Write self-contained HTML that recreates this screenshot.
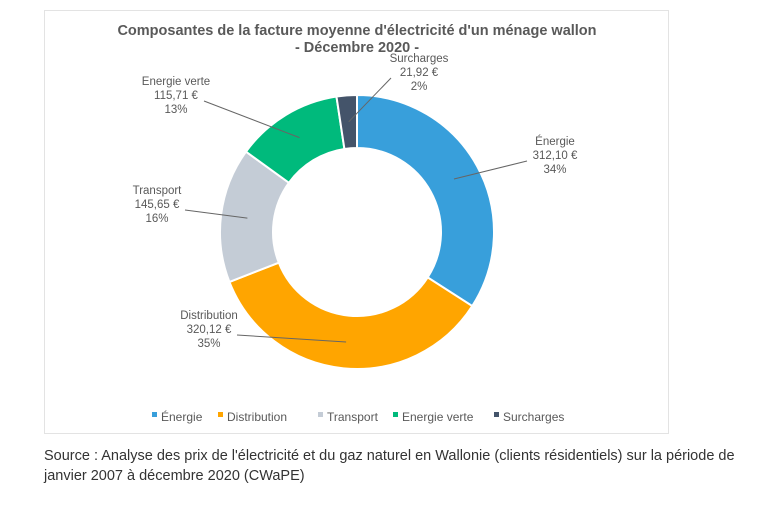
<!DOCTYPE html>
<html><head><meta charset="utf-8">
<style>
body{margin:0;background:#fff;width:762px;height:505px;overflow:hidden;font-family:"Liberation Sans",sans-serif;}
#frame{position:absolute;left:44px;top:10px;width:625px;height:424px;border:1px solid #e3e3e3;box-sizing:border-box;}
#src{position:absolute;left:44px;top:446px;font-size:14.5px;color:#333;line-height:20px;width:710px;}
svg text{font-family:"Liberation Sans",sans-serif;fill:#595959;}
</style></head><body>
<div id="frame"></div>
<svg id="chart" width="762" height="440" style="position:absolute;left:0;top:0">
<text x="357" y="35" text-anchor="middle" font-size="14.5" font-weight="bold">Composantes de la facture moyenne d'électricité d'un ménage wallon</text>
<text x="357" y="52" text-anchor="middle" font-size="14.5" font-weight="bold">- Décembre 2020 -</text>
<g id="slices"></g><g id="labels"></g><g id="legend"></g>
</svg>
<div id="src">Source : Analyse des prix de l'électricité et du gaz naturel en Wallonie (clients résidentiels) sur la période de janvier 2007 à décembre 2020 (CWaPE)</div>
<script>
const categories=["Énergie","Distribution","Transport","Energie verte","Surcharges"];
const values=[312.10,320.12,145.65,115.71,21.92];
const valueLabels=["312,10 €","320,12 €","145,65 €","115,71 €","21,92 €"];
const pctLabels=["34%","35%","16%","13%","2%"];
const colors=["#389fdb","#ffa500","#c4ccd6","#00ba7c","#44546a"];
const labelPos=[[555,158,"middle"],[209,332,"middle"],[157,207,"middle"],[176,98,"middle"],[419,75,"middle"]];
const legendX=[152,218,318,393,494];
const cx=357,cy=232,R=137,r=84;
const ns="http://www.w3.org/2000/svg";
const total=values.reduce((a,b)=>a+b,0);
function pt(a,rad){return [cx+rad*Math.sin(a),cy-rad*Math.cos(a)];}
let a0=0;
const gs=document.getElementById('slices'),gl=document.getElementById('labels'),gg=document.getElementById('legend');
values.forEach((v,i)=>{
 const a1=a0+v/total*2*Math.PI;
 const [x1,y1]=pt(a0,R),[x2,y2]=pt(a1,R),[x3,y3]=pt(a1,r),[x4,y4]=pt(a0,r);
 const lg=(a1-a0)>Math.PI?1:0;
 const p=document.createElementNS(ns,'path');
 p.setAttribute('d',`M${x1},${y1}A${R},${R} 0 ${lg} 1 ${x2},${y2}L${x3},${y3}A${r},${r} 0 ${lg} 0 ${x4},${y4}Z`);
 p.setAttribute('fill',colors[i]);p.setAttribute('stroke','#fff');p.setAttribute('stroke-width','2');
 
 
 gs.appendChild(p);
 const mid=(a0+a1)/2;const [mx,my]=pt(mid,(R+r)/2);
 const [lx,ly,anc]=labelPos[i];
 const ln=document.createElementNS(ns,'line');
 const ex=lx<cx?lx+28:lx-28;
 ln.setAttribute('x1',mx);ln.setAttribute('y1',my);ln.setAttribute('x2',ex);ln.setAttribute('y2',ly+3);
 ln.setAttribute('stroke','#666');ln.setAttribute('stroke-width','1');
 
 
 gl.appendChild(ln);
 [categories[i],valueLabels[i],pctLabels[i]].forEach((s,k)=>{
  const t=document.createElementNS(ns,'text');
  t.setAttribute('x',lx);t.setAttribute('y',ly-13+k*14);t.setAttribute('text-anchor',anc);t.setAttribute('font-size','11.5');
  t.textContent=s;
  
  
  gl.appendChild(t);
 });
 const sq=document.createElementNS(ns,'rect');
 sq.setAttribute('x',legendX[i]);sq.setAttribute('y',412);sq.setAttribute('width',5);sq.setAttribute('height',5);sq.setAttribute('fill',colors[i]);
 
 
 gg.appendChild(sq);
 const lt=document.createElementNS(ns,'text');
 lt.setAttribute('x',legendX[i]+9);lt.setAttribute('y',421);lt.setAttribute('font-size','12');lt.textContent=categories[i];
 
 
 gg.appendChild(lt);
 a0=a1;
});
</script>
</body></html>
